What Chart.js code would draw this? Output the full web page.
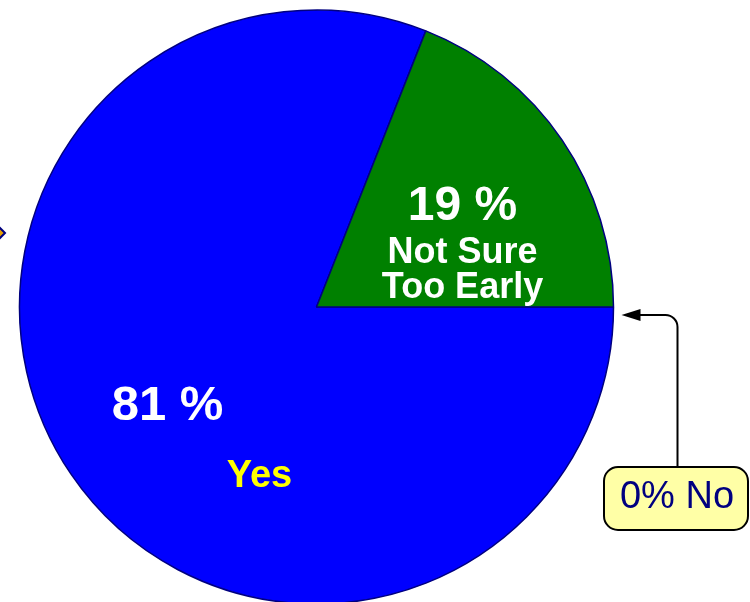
<!DOCTYPE html>
<html>
<head>
<meta charset="utf-8">
<script src="https://cdn.jsdelivr.net/npm/chart.js@4"></script>
<style>
  body { margin: 0; background: #fff; }
  #wrap { width: 750px; height: 602px; }
</style>
</head>
<body>
<div id="wrap"><canvas id="myChart" width="750" height="602"></canvas></div>
<script>
var categories = ['Yes', 'Not Sure Too Early', 'No'];
var values = [81, 19, 0];
var sliceColors = ['#0000FF', '#008000', '#FF0000'];
var pctLabels = ['81 %', '19 %', '0% No'];

// labels painted on top of the slices + the callout for the empty "No" slice
var labelPlugin = {
    id: 'pieLabels',
    afterDraw: function (chart) {
        var c = chart.ctx;
        var meta = chart.getDatasetMeta(0);
        var arc = meta.data[0];
        var cx = arc.x, cy = arc.y, r = arc.outerRadius;
        var font = '"Liberation Sans", Arial, sans-serif';

        c.save();
        c.textAlign = 'center';
        c.textBaseline = 'middle';

        // green slice
        c.fillStyle = '#FFFFFF';
        c.font = 'bold 48px ' + font;
        c.fillText(pctLabels[1], cx + 146, cy - 100);
        c.font = 'bold 36px ' + font;
        c.fillText('Not Sure', cx + 146, cy - 54);
        c.fillText('Too Early', cx + 146, cy - 19);

        // blue slice
        c.font = 'bold 49px ' + font;
        c.fillText(pctLabels[0], cx - 149, cy + 99);
        c.fillStyle = '#FFFF00';
        c.font = 'bold 38px ' + font;
        c.fillText(categories[0], cx - 57, cy + 170);

        // callout arrow pointing at the zero slice
        var a = meta.data[2].startAngle;
        var tipX = cx + r * Math.cos(a) + 8;
        var tipY = cy + r * Math.sin(a) + 8;
        var lineX = 677.5, boxTop = 467, rad = 12;
        c.strokeStyle = '#000000';
        c.lineWidth = 2;
        c.beginPath();
        c.moveTo(lineX, boxTop);
        c.lineTo(lineX, tipY + rad);
        c.arcTo(lineX, tipY, lineX - rad, tipY, rad);
        c.lineTo(tipX + 16, tipY);
        c.stroke();
        c.fillStyle = '#000000';
        c.beginPath();
        c.moveTo(tipX, tipY);
        c.lineTo(tipX + 19, tipY - 6);
        c.lineTo(tipX + 19, tipY + 6);
        c.closePath();
        c.fill();

        // callout box
        c.beginPath();
        c.roundRect(604, boxTop, 144, 63, 14);
        c.fillStyle = '#FFFFA6';
        c.fill();
        c.lineWidth = 2;
        c.strokeStyle = '#000000';
        c.stroke();
        c.fillStyle = '#000080';
        c.font = '38px ' + font;
        c.fillText(pctLabels[2], 677, 498);

        // clipped diamond marker at left edge
        c.beginPath();
        c.moveTo(5, 233);
        c.lineTo(-8, 220);
        c.lineTo(-21, 233);
        c.lineTo(-8, 246);
        c.closePath();
        c.fillStyle = '#E8A000';
        c.fill();
        c.lineWidth = 2;
        c.strokeStyle = '#000080';
        c.stroke();

        c.restore();
    }
};

var ctx = document.getElementById('myChart').getContext('2d');
var myChart = new Chart(ctx, {
    type: 'pie',
    data: {
        labels: categories,
        datasets: [{
            data: values,
            backgroundColor: sliceColors,
            borderColor: '#000080',
            borderWidth: 1.5
        }]
    },
    options: {
        responsive: false,
        animation: false,
        rotation: 90,
        radius: 297,
        layout: {
            padding: { left: 0, right: 117, top: 12, bottom: 0 }
        },
        plugins: {
            legend: { display: false },
            tooltip: { enabled: false }
        }
    },
    plugins: [labelPlugin]
});
</script>
</body>
</html>
